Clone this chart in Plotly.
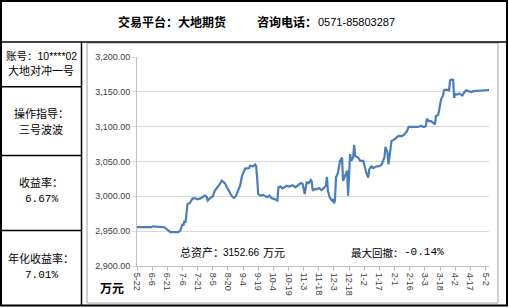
import plotly.graph_objects as go

# ---- data ----
dates = [
    "2016-05-22", "2016-06-05", "2016-06-07", "2016-06-10", "2016-06-12", "2016-06-18",
    "2016-06-22", "2016-06-24", "2016-07-02", "2016-07-04", "2016-07-06", "2016-07-07",
    "2016-07-08", "2016-07-09", "2016-07-11", "2016-07-13", "2016-07-14", "2016-07-16",
    "2016-07-19", "2016-07-21", "2016-07-24", "2016-07-28", "2016-07-30", "2016-07-31",
    "2016-08-02", "2016-08-05", "2016-08-07", "2016-08-10", "2016-08-12", "2016-08-14",
    "2016-08-17", "2016-08-19", "2016-08-22", "2016-08-24", "2016-08-26", "2016-08-28",
    "2016-09-01", "2016-09-03", "2016-09-06", "2016-09-10", "2016-09-11", "2016-09-14",
    "2016-09-16", "2016-09-17", "2016-09-18", "2016-09-19", "2016-09-21", "2016-09-24",
    "2016-09-26", "2016-09-28", "2016-09-30", "2016-10-02", "2016-10-05", "2016-10-08",
    "2016-10-09", "2016-10-11", "2016-10-13", "2016-10-17", "2016-10-20", "2016-10-23",
    "2016-10-26", "2016-10-28", "2016-10-31", "2016-11-02", "2016-11-04", "2016-11-06",
    "2016-11-08", "2016-11-10", "2016-11-11", "2016-11-12", "2016-11-14", "2016-11-16",
    "2016-11-18", "2016-11-21", "2016-11-24", "2016-11-25", "2016-11-26", "2016-11-27",
    "2016-11-29", "2016-12-01", "2016-12-02", "2016-12-03", "2016-12-04", "2016-12-05",
    "2016-12-07", "2016-12-08", "2016-12-09", "2016-12-11", "2016-12-12", "2016-12-13",
    "2016-12-15", "2016-12-16", "2016-12-17", "2016-12-18", "2016-12-19", "2016-12-20",
    "2016-12-22", "2016-12-23", "2016-12-24", "2016-12-27", "2016-12-29", "2017-01-01",
    "2017-01-02", "2017-01-04", "2017-01-06", "2017-01-07", "2017-01-09", "2017-01-11",
    "2017-01-14", "2017-01-16", "2017-01-19", "2017-01-20", "2017-01-22", "2017-01-23",
    "2017-01-25", "2017-01-26", "2017-01-27", "2017-01-29", "2017-02-01", "2017-02-03",
    "2017-02-05", "2017-02-08", "2017-02-10", "2017-02-13", "2017-02-15", "2017-02-19",
    "2017-02-24", "2017-02-27", "2017-03-02", "2017-03-04", "2017-03-05", "2017-03-07",
    "2017-03-09", "2017-03-11", "2017-03-13", "2017-03-14", "2017-03-16", "2017-03-17",
    "2017-03-19", "2017-03-21", "2017-03-22", "2017-03-24", "2017-03-27", "2017-03-28",
    "2017-03-30", "2017-03-31", "2017-04-01", "2017-04-02", "2017-04-04", "2017-04-06",
    "2017-04-09", "2017-04-11", "2017-04-13", "2017-04-15", "2017-04-18", "2017-04-20",
    "2017-04-23", "2017-04-29", "2017-05-06",
]
assets = [
    2955.7, 2955.7, 2957.0, 2956.5, 2955.7, 2955.7,
    2951.0, 2948.6, 2948.6, 2951.0, 2960.6, 2958.0,
    2965.0, 2962.0, 2989.0, 2990.0, 2992.0, 2997.0,
    2997.0, 2995.8, 2997.0, 3001.0, 2999.0, 2994.0,
    2997.0, 3000.0, 3008.0, 3013.0, 3017.7, 3022.4,
    3019.0, 3013.0, 3005.7, 3000.0, 2997.6, 3001.0,
    3015.0, 3029.6, 3040.0, 3040.5, 3044.0, 3043.0,
    3045.7, 3043.0, 3025.0, 3003.4, 3001.0, 3002.0,
    3000.0, 2998.6, 3001.0, 2997.6, 2996.0, 2994.0,
    3013.0, 3014.0, 3011.5, 3015.0, 3014.0, 3016.0,
    3013.0, 3016.0, 3019.0, 3018.0, 3003.4, 3020.0,
    3019.0, 3023.4, 3021.0, 3008.0, 3010.5, 3010.0,
    3012.0, 3009.0, 3012.5, 3015.0, 3028.0, 3008.0,
    2997.6, 2994.0, 2996.0, 2990.0, 2994.0, 3027.0,
    3034.0, 3041.0, 3051.0, 3055.7, 3022.4, 3026.0,
    3034.0, 3037.0, 3001.0, 3032.0, 3060.6, 3051.0,
    3055.7, 3074.0, 3058.0, 3055.7, 3051.0, 3051.0,
    3044.0, 3034.0, 3027.0, 3039.0, 3043.0, 3040.5,
    3043.0, 3043.0, 3045.0, 3048.6, 3055.7, 3071.0,
    3063.0, 3046.0, 3060.0, 3079.6, 3082.0, 3084.0,
    3086.7, 3086.4, 3088.0, 3093.0, 3099.6, 3099.6,
    3099.6, 3101.0, 3099.6, 3101.0, 3111.4, 3108.0,
    3108.0, 3105.7, 3103.4, 3115.0, 3117.0, 3122.4,
    3139.0, 3144.9, 3152.4, 3153.0, 3152.4, 3166.7,
    3167.7, 3167.0, 3141.4, 3147.0, 3146.0, 3147.7,
    3144.9, 3149.0, 3152.4, 3151.0, 3149.6, 3151.0,
    3151.4, 3152.0, 3152.66,
]
y_ticks = [2900, 2950, 3000, 3050, 3100, 3150, 3200]
y_tick_text = ["2,900.00", "2,950.00", "3,000.00", "3,050.00", "3,100.00", "3,150.00", "3,200.00"]

title_left = "交易平台：大地期货"
title_mid = "咨询电话："
title_phone = "0571-85803287"
side_rows = [("账号：10****02", "大地对冲一号"), ("操作指导：", "三号波波"),
             ("收益率：", "6.67%"), ("年化收益率：", "7.01%")]
total_label = "总资产："
total_value = "3152.66"
total_unit = "万元"
dd_label = "最大回撤："
dd_value = "-0.14%"
unit_label = "万元"

# ---- layout geometry (pixels) ----
W, H = 509, 308
L, R, T, B = 137, 20, 57, 42
PW, PH = W - L - R, H - T - B


def px(x):
    return (x - L) / PW


def py(y):
    return (H - B - y) / PH


fig = go.Figure()
fig.add_trace(go.Scatter(x=dates, y=assets, mode="lines",
                         line=dict(color="#4A7EBB", width=2.2), hoverinfo="skip"))

shapes = []


def hline(y, x0, x1, color="black", w=1.5):
    shapes.append(dict(type="line", xref="paper", yref="paper", x0=px(x0), x1=px(x1),
                       y0=py(y), y1=py(y), line=dict(color=color, width=w)))


def vline(x, y0, y1, color="black", w=1.5):
    shapes.append(dict(type="line", xref="paper", yref="paper", x0=px(x), x1=px(x),
                       y0=py(y0), y1=py(y1), line=dict(color=color, width=w)))


# chart-area grey frame
shapes.append(dict(type="rect", xref="paper", yref="paper", x0=px(87), x1=px(498),
                   y0=py(303), y1=py(43), line=dict(color="#a0a0a0", width=1)))
# outer black frame
hline(1, 0, 508, w=2)
hline(305.5, 0, 508, w=2)
vline(1, 0, 306, w=2)
vline(507, 0, 306, w=2)
hline(42, 0, 508)
vline(81.5, 42, 306)
for yy in (86.7, 155.5, 230.5):
    hline(yy, 0, 81.5)

annotations = []


def text(x, y, s, size=11, anchor="left", family="Noto Sans CJK SC", color="black"):
    annotations.append(dict(x=px(x), y=py(y), xref="paper", yref="paper", text=s,
                            showarrow=False, xanchor=anchor, yanchor="middle",
                            font=dict(size=size, family=family, color=color)))


cjk_mono = "Liberation Mono, Noto Sans CJK SC"
cjk_sans = "Liberation Sans, Noto Sans CJK SC"
text(116, 21.5, "<b>" + title_left + "</b>", size=12)
text(255, 21.5, "<b>" + title_mid + "</b>", size=12)
text(316, 21.5, title_phone, size=11, family="Liberation Sans")

row_centers = [(56, 71), (114, 130), (183, 199), (259, 275)]
row_fonts = [(cjk_sans, 10.5), (cjk_mono, 11), (cjk_mono, 11), (cjk_mono, 11)]
for (a, b_), (ya, yb), (fam, sz) in zip(side_rows, row_centers, row_fonts):
    text(41, ya, a, size=sz, anchor="center", family=fam)
    text(41, yb, b_, size=11, anchor="center", family=cjk_mono)

text(178, 252, total_label, size=11)
text(221, 252, total_value, size=10, family="Liberation Sans")
text(261, 252, total_unit, size=11)
text(349, 252, dd_label, size=10.5)
text(402, 252, dd_value, size=11, family="Liberation Mono")
text(112, 287, "<b>" + unit_label + "</b>", size=12, anchor="center")

fig.update_layout(
    width=W, height=H,
    margin=dict(l=L, r=R, t=T, b=B, pad=0),
    paper_bgcolor="white", plot_bgcolor="white",
    showlegend=False,
    shapes=shapes, annotations=annotations,
    xaxis=dict(type="date", range=["2016-05-22", "2017-05-05 12:00"],
               tick0="2016-05-22", dtick=15 * 86400000, tickformat="%-m-%-d",
               tickangle=90, showgrid=False, showline=True, linecolor="#bfbfbf",
               linewidth=1, ticks="outside", ticklen=4, tickcolor="#bfbfbf",
               tickfont=dict(size=9, family="Liberation Sans", color="#404040"),
               zeroline=False),
    yaxis=dict(range=[2900, 3200], tickvals=y_ticks, ticktext=y_tick_text,
               showgrid=True, gridcolor="#d9d9d9", gridwidth=1,
               showline=True, linecolor="#bfbfbf", linewidth=1,
               ticks="outside", ticklen=4, tickcolor="#d9d9d9",
               tickfont=dict(size=9, family="Liberation Sans", color="#404040"),
               zeroline=False),
)

fig.write_html("out.html")
